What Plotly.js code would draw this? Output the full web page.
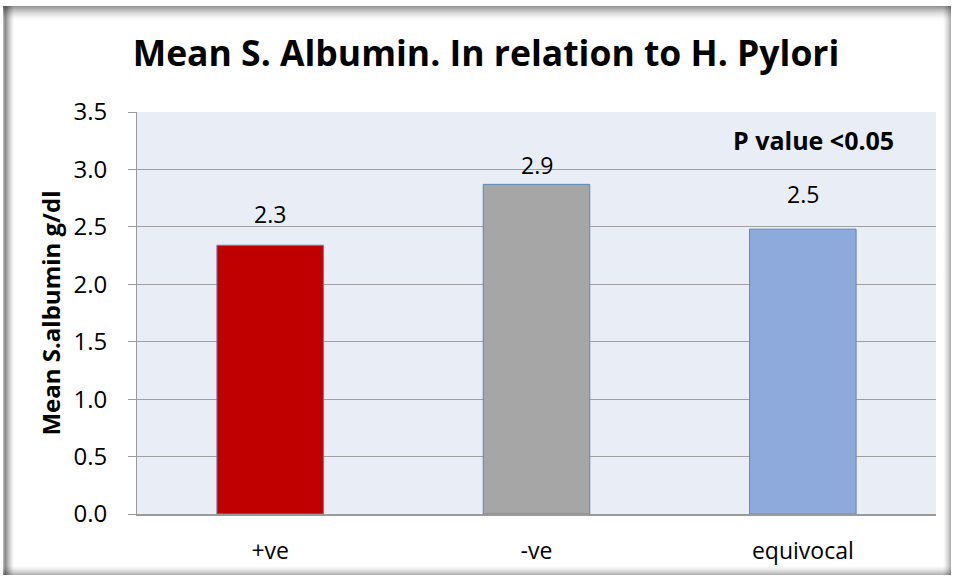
<!DOCTYPE html>
<html>
<head>
<meta charset="utf-8">
<script src="https://cdn.plot.ly/plotly-3.0.1.min.js"></script>
<style>html,body{margin:0;padding:0;background:#fff;}#chart{width:957px;height:579px;}</style>
</head>
<body>
<div id="chart"></div>
<script>
const categories = ["+ve", "-ve", "equivocal"];
const meanAlbumin = [2.34, 2.87, 2.48];
const barColors = ["#C00000", "#A6A6A6", "#8EA9DB"];
const yTicks = [0, 0.5, 1, 1.5, 2, 2.5, 3, 3.5];
const yTickLabels = ["0.0", "0.5", "1.0", "1.5", "2.0", "2.5", "3.0", "3.5"];

const W = 957, H = 579;
const L = 137, R = 936, T = 112, B = 514;
const px = x => (x - L) / (R - L);
const py = y => (B - y) / (B - T);
const FONT = "'Open Sans', 'Noto Sans', sans-serif";

// frame shadow (drawn as thin semi-transparent strips)
const shapes = [];
function strip(x0, x1, y0, y1, a) {
  shapes.push({type: "rect", xref: "paper", yref: "paper",
    x0: px(x0), x1: px(x1), y0: py(y1), y1: py(y0),
    line: {width: 0}, fillcolor: "rgba(0,0,0," + a.toFixed(3) + ")", layer: "below"});
}
for (let i = 0; i < 14; i++) {           // top
  const a = 0.42 * Math.pow(1 - i / 14, 1.6);
  strip(3, 951, 6 + i, 7 + i, a);
}
for (let i = 0; i < 11; i++) {           // left
  const a = i < 2 ? 0.28 + 0.12 * i : 0.45 * Math.pow(1 - (i - 2) / 9, 1.4);
  strip(3 + i, 4 + i, 6, 575, a);
}
for (let i = 0; i < 8; i++) {            // right
  const a = 0.30 * Math.pow(1 - i / 8, 1.5);
  strip(950 - i, 951 - i, 6, 575, a);
}
for (let i = 0; i < 9; i++) {            // bottom
  const a = 0.30 * Math.pow(1 - i / 9, 1.5);
  strip(3, 951, 574 - i, 575 - i, a);
}

const trace = {
  type: "bar",
  x: categories,
  y: meanAlbumin,
  marker: {color: barColors, line: {color: "#5B87B8", width: 1}},
  hoverinfo: "skip"
};

// data labels (value rounded to one decimal), placed above bars as in the reference
const labelLift = [13, 1, 17];
const labelAnn = categories.map((c, i) => ({
  x: c, y: meanAlbumin[i], xref: "x", yref: "y",
  yanchor: "bottom", xanchor: "center", yshift: labelLift[i],
  showarrow: false, text: meanAlbumin[i].toFixed(1),
  font: {family: FONT, size: 23, color: "#000"}
}));

const layout = {
  width: W, height: H,
  margin: {l: L, r: W - R, t: T, b: H - B, pad: 0},
  paper_bgcolor: "#ffffff",
  plot_bgcolor: "#E9EDF5",
  showlegend: false,
  bargap: 0.6,
  font: {family: FONT, color: "#000"},
  title: {
    text: "<b>Mean S. Albumin. In relation to H. Pylori</b>",
    font: {family: FONT, size: 35.5, color: "#000"},
    x: 486 / W, xref: "container", xanchor: "center",
    y: 1 - 54 / H, yref: "container", yanchor: "middle"
  },
  xaxis: {
    type: "category",
    showgrid: false,
    showline: true, linecolor: "#9A9A9A", linewidth: 1.5,
    ticks: "", ticklabelstandoff: 16,
    tickfont: {family: FONT, size: 23, color: "#000"},
    fixedrange: true
  },
  yaxis: {
    range: [0, 3.5],
    tickvals: yTicks, ticktext: yTickLabels,
    showgrid: true, gridcolor: "#A0A0A0", gridwidth: 1,
    zeroline: false,
    showline: true, linecolor: "#9A9A9A", linewidth: 1,
    ticks: "outside", ticklen: 8, tickcolor: "#9A9A9A",
    ticklabelstandoff: 16,
    tickfont: {family: FONT, size: 24, color: "#000"},
    title: {text: "<b>Mean S.albumin g/dl</b>", font: {family: FONT, size: 24, color: "#000"}, standoff: 6},
    fixedrange: true
  },
  annotations: labelAnn.concat([{
    xref: "paper", yref: "paper", x: px(813), y: py(140),
    xanchor: "center", yanchor: "middle", showarrow: false,
    text: "<b>P value <0.05</b>",
    font: {family: FONT, size: 25, color: "#000"}
  }]),
  shapes: shapes
};

Plotly.newPlot("chart", [trace], layout, {displayModeBar: false, staticPlot: true});
</script>
</body>
</html>
